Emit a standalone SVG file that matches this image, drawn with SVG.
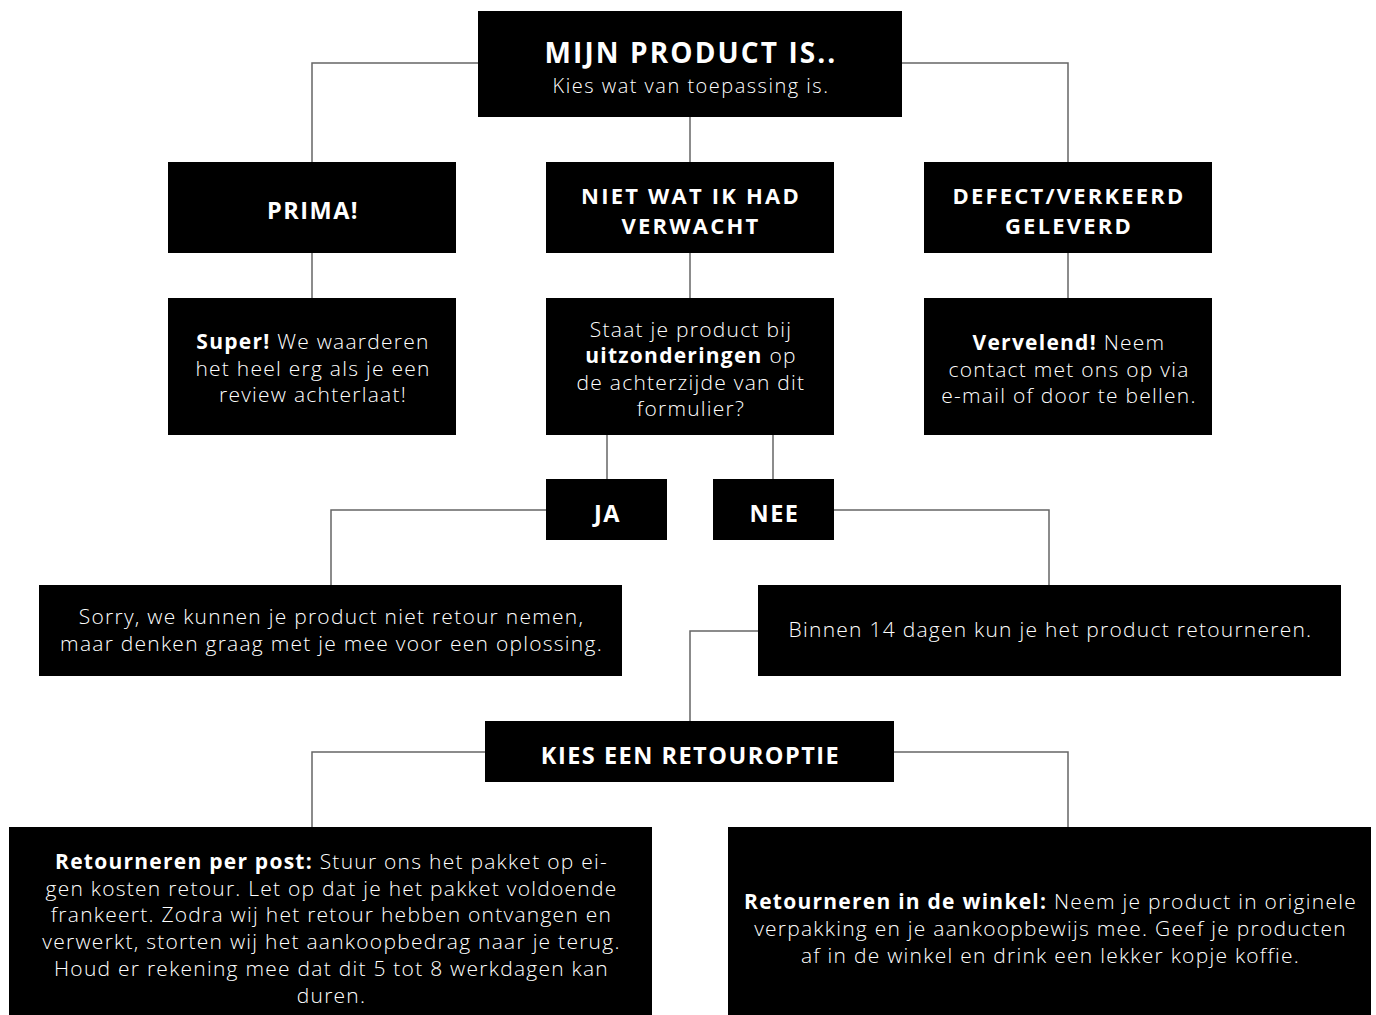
<svg xmlns="http://www.w3.org/2000/svg" width="1376" height="1015" viewBox="0 0 1376 1015">
<style>
.box{fill:#000}
.t{font-family:"Open Sans","DejaVu Sans",sans-serif;fill:#fff;text-anchor:middle;font-size:21px;font-weight:300;letter-spacing:1.25px}
.b{font-weight:700}
.h{font-family:"Open Sans","DejaVu Sans",sans-serif;fill:#fff;text-anchor:middle;font-size:23.5px;font-weight:700;letter-spacing:1.5px}
.h2{font-size:22px;letter-spacing:2.2px}
.c{fill:none;stroke:#666;stroke-width:1.5}
</style>
<rect width="1376" height="1015" fill="#fff"/>
<g id="connectors">
<path class="c" d="M478 63H312V162"/>
<path class="c" d="M902 63H1068V162"/>
<path class="c" d="M690 117V162"/>
<path class="c" d="M312 253V298"/>
<path class="c" d="M690 253V298"/>
<path class="c" d="M1068 253V298"/>
<path class="c" d="M607 435V479"/>
<path class="c" d="M773 435V479"/>
<path class="c" d="M546 510H331V585"/>
<path class="c" d="M834 510H1049V585"/>
<path class="c" d="M758 631H690V721"/>
<path class="c" d="M485 752H312V827"/>
<path class="c" d="M894 752H1068V827"/>
</g>
<g id="start">
<rect class="box" x="478" y="11" width="424" height="106"/>
<text class="h" x="691" y="63" style="font-size:28px;letter-spacing:2.1px">MIJN PRODUCT IS..</text>
<text class="t" x="691" y="93" style="font-size:20px;letter-spacing:1.5px">Kies wat van toepassing is.</text>
</g>
<g id="prima">
<rect class="box" x="168" y="162" width="288" height="91"/>
<text class="h" x="313" y="219">PRIMA!</text>
</g>
<g id="niet">
<rect class="box" x="546" y="162" width="288" height="91"/>
<text class="h h2" x="691" y="204">NIET WAT IK HAD</text>
<text class="h h2" x="691" y="234">VERWACHT</text>
</g>
<g id="defect">
<rect class="box" x="924" y="162" width="288" height="91"/>
<text class="h h2" x="1069" y="204">DEFECT/VERKEERD</text>
<text class="h h2" x="1069" y="234">GELEVERD</text>
</g>
<g id="super">
<rect class="box" x="168" y="298" width="288" height="137"/>
<text class="t" x="313" y="349"><tspan class="b">Super!</tspan> We waarderen</text>
<text class="t" x="313" y="376">het heel erg als je een</text>
<text class="t" x="313" y="402">review achterlaat!</text>
</g>
<g id="staat">
<rect class="box" x="546" y="298" width="288" height="137"/>
<text class="t" x="691" y="337">Staat je product bij</text>
<text class="t" x="691" y="363"><tspan class="b">uitzonderingen</tspan> op</text>
<text class="t" x="691" y="390">de achterzijde van dit</text>
<text class="t" x="691" y="416">formulier?</text>
</g>
<g id="vervelend">
<rect class="box" x="924" y="298" width="288" height="137"/>
<text class="t" x="1069" y="350"><tspan class="b">Vervelend!</tspan> Neem</text>
<text class="t" x="1069" y="377">contact met ons op via</text>
<text class="t" x="1069" y="403">e-mail of door te bellen.</text>
</g>
<g id="ja">
<rect class="box" x="546" y="479" width="121" height="61"/>
<text class="h" x="607.5" y="522">JA</text>
</g>
<g id="nee">
<rect class="box" x="713" y="479" width="121" height="61"/>
<text class="h" x="774.5" y="522">NEE</text>
</g>
<g id="sorry">
<rect class="box" x="39" y="585" width="583" height="91"/>
<text class="t" x="331.5" y="624">Sorry, we kunnen je product niet retour nemen,</text>
<text class="t" x="331.5" y="651">maar denken graag met je mee voor een oplossing.</text>
</g>
<g id="binnen">
<rect class="box" x="758" y="585" width="583" height="91"/>
<text class="t" x="1050.5" y="637">Binnen 14 dagen kun je het product retourneren.</text>
</g>
<g id="kies">
<rect class="box" x="485" y="721" width="409" height="61"/>
<text class="h" x="690.5" y="764">KIES EEN RETOUROPTIE</text>
</g>
<g id="post">
<rect class="box" x="9" y="827" width="643" height="188"/>
<text class="t" x="331.5" y="869"><tspan class="b">Retourneren per post:</tspan> Stuur ons het pakket op ei-</text>
<text class="t" x="331.5" y="896">gen kosten retour. Let op dat je het pakket voldoende</text>
<text class="t" x="331.5" y="922">frankeert. Zodra wij het retour hebben ontvangen en</text>
<text class="t" x="331.5" y="949">verwerkt, storten wij het aankoopbedrag naar je terug.</text>
<text class="t" x="331.5" y="976">Houd er rekening mee dat dit 5 tot 8 werkdagen kan</text>
<text class="t" x="331.5" y="1003">duren.</text>
</g>
<g id="winkel">
<rect class="box" x="728" y="827" width="643" height="188"/>
<text class="t" x="1050.5" y="909"><tspan class="b">Retourneren in de winkel:</tspan> Neem je product in originele</text>
<text class="t" x="1050.5" y="936">verpakking en je aankoopbewijs mee. Geef je producten</text>
<text class="t" x="1050.5" y="963">af in de winkel en drink een lekker kopje koffie.</text>
</g>
</svg>
